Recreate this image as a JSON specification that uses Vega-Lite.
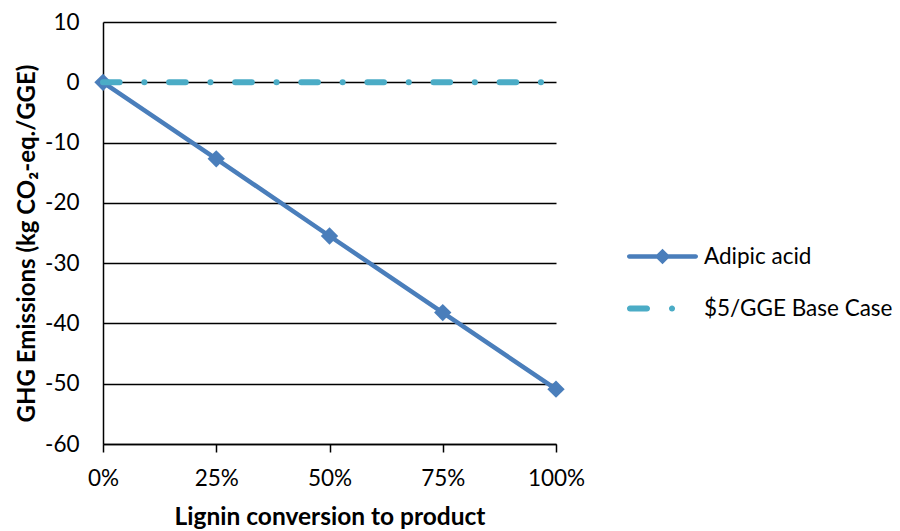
{
  "$schema": "https://vega.github.io/schema/vega-lite/v6.json",
  "width": 453,
  "height": 422,
  "autosize": {"type": "none"},
  "padding": {"left": 103, "top": 22, "right": 344, "bottom": 87},
  "background": "white",
  "config": {
    "view": {"stroke": null},
    "font": "Lato",
    "axis": {
      "domainColor": "#000000",
      "domainWidth": 1.5,
      "gridColor": "#000000",
      "gridWidth": 1.3,
      "tickColor": "#000000",
      "tickWidth": 1.5,
      "labelColor": "#000000",
      "titleColor": "#000000",
      "labelFont": "Lato",
      "titleFont": "Lato",
      "labelFontSize": 22.5,
      "titleFontSize": 24,
      "titleFontWeight": "bold"
    },
    "legend": {
      "labelFont": "Lato",
      "labelFontSize": 22.5,
      "labelColor": "#000000",
      "labelLimit": 400
    }
  },
  "data": {
    "values": [
      {"series": "Adipic acid", "conv": 0, "ghg": 0},
      {"series": "Adipic acid", "conv": 0.25, "ghg": -12.7},
      {"series": "Adipic acid", "conv": 0.5, "ghg": -25.5},
      {"series": "Adipic acid", "conv": 0.75, "ghg": -38.2},
      {"series": "Adipic acid", "conv": 1, "ghg": -50.9},
      {"series": "$5/GGE Base Case", "conv": 0, "ghg": 0},
      {"series": "$5/GGE Base Case", "conv": 1, "ghg": 0}
    ]
  },
  "encoding": {
    "x": {
      "field": "conv",
      "type": "quantitative",
      "scale": {"domain": [0, 1], "nice": false},
      "axis": {
        "values": [0, 0.25, 0.5, 0.75, 1],
        "format": ".0%",
        "grid": false,
        "ticks": true,
        "tickSize": 8,
        "labelPadding": 15,
        "labelFlush": false,
        "title": "Lignin conversion to product",
        "titleY": 73,
        "titleBaseline": "middle",
        "titleFontSize": 24.5
      }
    },
    "y": {
      "field": "ghg",
      "type": "quantitative",
      "scale": {"domain": [-60, 10], "nice": false},
      "axis": {
        "values": [-60, -50, -40, -30, -20, -10, 0, 10],
        "grid": true,
        "ticks": false,
        "tickSize": 0,
        "labelPadding": 24,
        "labelFlush": false,
        "labelExpr": "replace(datum.label, '−', '-')",
        "title": "GHG Emissions  (kg CO₂-eq./GGE)",
        "titleX": -76,
        "titleY": 221,
        "titleAngle": 270,
        "titleAlign": "center",
        "titleBaseline": "middle"
      }
    }
  },
  "layer": [
    {
      "transform": [{"filter": "datum.series === 'Adipic acid'"}],
      "mark": {"type": "line", "color": "#4A7EBB", "strokeWidth": 4.5}
    },
    {
      "transform": [{"filter": "datum.series === 'Adipic acid'"}],
      "mark": {"type": "point", "shape": "diamond", "filled": true, "opacity": 1, "size": 300, "color": "#4A7EBB"}
    },
    {
      "transform": [{"filter": "datum.series === '$5/GGE Base Case'"}],
      "mark": {"type": "line", "color": "#4BACC6", "strokeWidth": 6, "strokeCap": "round", "strokeDash": [16.6, 24.7, 0.1, 24.7]}
    },
    {
      "data": {"values": [{"series": "Adipic acid"}, {"series": "$5/GGE Base Case"}]},
      "mark": {"type": "point", "filled": true, "size": 5041, "opacity": 0},
      "encoding": {
        "x": {"value": 0},
        "y": {"value": 0},
        "color": {
          "field": "series",
          "type": "nominal",
          "scale": {"domain": ["Adipic acid", "$5/GGE Base Case"], "range": ["#4A7EBB", "#4BACC6"]},
          "legend": {
            "title": null,
            "orient": "none",
            "legendX": 524,
            "legendY": 199,
            "padding": 0,
            "symbolOpacity": 1,
            "symbolStrokeWidth": 0,
            "symbolSize": 5041,
            "labelOffset": 6,
            "rowPadding": 5,
            "encode": {"symbols": {"update": {"opacity": {"value": 1}, "fillOpacity": {"value": 1}}}}
          }
        },
        "shape": {
          "field": "series",
          "type": "nominal",
          "scale": {
            "domain": ["Adipic acid", "$5/GGE Base Case"],
            "range": [
              "M-0.937,-0.063L0.937,-0.063A0.063,0.063 0 0 1 0.937,0.063L-0.937,0.063A0.063,0.063 0 0 1 -0.937,-0.063ZM0,-0.22L0.22,0L0,0.22L-0.22,0Z",
              "M-0.915,-0.085L-0.437,-0.085A0.085,0.085 0 0 1 -0.437,0.085L-0.915,0.085A0.085,0.085 0 0 1 -0.915,-0.085ZM0.183,0A0.085,0.085 0 1 1 0.353,0A0.085,0.085 0 1 1 0.183,0Z"
            ]
          }
        }
      }
    }
  ]
}
